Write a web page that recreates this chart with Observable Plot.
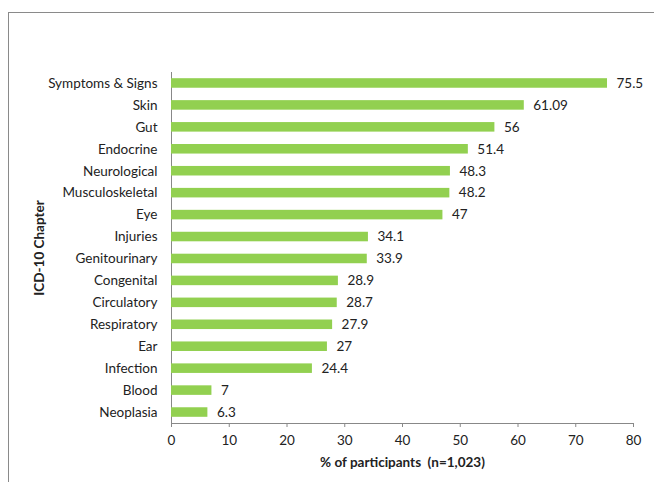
<!DOCTYPE html>
<html>
<head>
<meta charset="utf-8">
<script src="https://cdn.jsdelivr.net/npm/d3@7"></script>
<script src="https://cdn.jsdelivr.net/npm/@observablehq/plot@0.6"></script>
<style>
  html, body { margin: 0; padding: 0; background: #fff; }
  #wrap { position: relative; width: 654px; height: 482px; overflow: hidden; }
  #frame { position: absolute; left: 8px; top: 12px; width: 700px; height: 500px;
           border-top: 1.5px solid #8a8a8a; border-left: 1.5px solid #8a8a8a; pointer-events: none; }
  svg { display: block; }
</style>
</head>
<body>
<div id="wrap"><div id="frame"></div></div>
<script>
const categories = ["Symptoms & Signs", "Skin", "Gut", "Endocrine", "Neurological", "Musculoskeletal", "Eye", "Injuries", "Genitourinary", "Congenital", "Circulatory", "Respiratory", "Ear", "Infection", "Blood", "Neoplasia"];
const values = [75.5, 61.09, 56, 51.4, 48.3, 48.2, 47, 34.1, 33.9, 28.9, 28.7, 27.9, 27, 24.4, 7, 6.3];
const valueLabels = ["75.5", "61.09", "56", "51.4", "48.3", "48.2", "47", "34.1", "33.9", "28.9", "28.7", "27.9", "27", "24.4", "7", "6.3"];
const xTicks = [0, 10, 20, 30, 40, 50, 60, 70, 80];

const data = categories.map((c, i) => ({category: c, value: values[i], label: valueLabels[i]}));

const font = "Lato, Open Sans, sans-serif";
const chart = Plot.plot({
  width: 654,
  height: 482,
  marginLeft: 171,
  marginRight: 21,
  marginTop: 72,
  marginBottom: 59,
  style: {fontFamily: font, fontSize: "13.5px", color: "#222", background: "transparent"},
  x: {domain: [0, 80], ticks: xTicks},
  y: {domain: categories, padding: 0, round: false},
  marks: [
    Plot.frame({anchor: "bottom", stroke: "#888"}),
    Plot.frame({anchor: "left", stroke: "#888"}),
    Plot.barX(data, {x: "value", y: "category", fill: "#92D050", insetTop: 6.2, insetBottom: 6.2}),
    Plot.text(data, {x: "value", y: "category", text: "label", textAnchor: "start", dx: 9, fontSize: 13.5, fill: "#222"}),
    Plot.axisX({ticks: xTicks, tickSize: 4, tickPadding: 8, stroke: "#888", fontSize: 13.5, fill: "#222",
      label: "% of participants\u00a0 (n=1,023)", labelAnchor: "center", labelArrow: "none", labelOffset: 43}),
    Plot.axisY({tickSize: 0, tickPadding: 14, fontSize: 13.5, fill: "#222",
      label: "ICD-10 Chapter", labelAnchor: "center", labelArrow: "none", labelOffset: 137})
  ]
});
d3.select(chart).selectAll("[aria-label='x-axis label'] text, [aria-label='y-axis label'] text")
  .style("font-weight", "bold");
document.getElementById("wrap").prepend(chart);
</script>
</body>
</html>
